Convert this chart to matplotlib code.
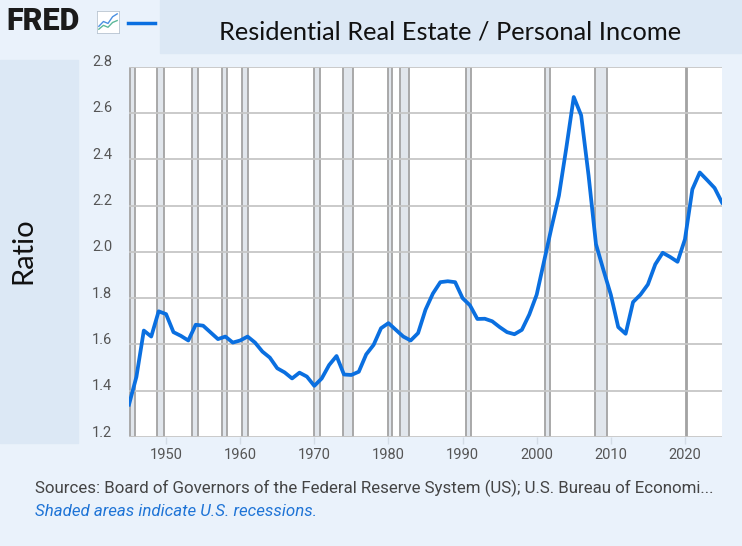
import matplotlib
matplotlib.use("Agg")
import matplotlib.pyplot as plt
from matplotlib.patches import Rectangle
from matplotlib.transforms import ScaledTranslation

# annual ratio
years = list(range(1945, 2026))
ratio = [
    1.34, 1.46, 1.66, 1.634, 1.743, 1.731, 1.653, 1.637, 1.617, 1.685,
    1.681, 1.652, 1.623, 1.634, 1.608, 1.617, 1.634, 1.608, 1.569, 1.543,
    1.497, 1.479, 1.453, 1.478, 1.461, 1.421, 1.453, 1.511, 1.550, 1.470,
    1.468, 1.482, 1.557, 1.598, 1.670, 1.692, 1.663, 1.634, 1.617, 1.649,
    1.750, 1.820, 1.869, 1.873, 1.869, 1.800, 1.769, 1.710, 1.711, 1.700,
    1.675, 1.653, 1.644, 1.663, 1.729, 1.815, 1.960, 2.105, 2.243, 2.450,
    2.669, 2.590, 2.330, 2.033, 1.922, 1.815, 1.675, 1.646, 1.783, 1.815,
    1.859, 1.946, 1.996, 1.978, 1.957, 2.054, 2.270, 2.343, 2.310, 2.276,
    2.213,
]

# NBER recessions (decimal years)
rec_start = [1945.08, 1948.83, 1953.5, 1957.58, 1960.25, 1969.92, 1973.83,
             1980.0, 1981.5, 1990.5, 2001.17, 2007.92, 2020.08]
rec_end = [1945.75, 1949.75, 1954.33, 1958.25, 1961.08, 1970.83, 1975.17,
           1980.5, 1982.83, 1991.17, 2001.83, 2009.42, 2020.25]

yticks = [1.2, 1.4, 1.6, 1.8, 2.0, 2.2, 2.4, 2.6, 2.8]
xticks = [1950, 1960, 1970, 1980, 1990, 2000, 2010, 2020]

title = "Residential Real Estate / Personal Income"
source = ("Sources: Board of Governors of the Federal Reserve System (US); "
          "U.S. Bureau of Economi...")
note = "Shaded areas indicate U.S. recessions."

W, H = 742, 546
bg = "#eaf2fb"
panel = "#dce8f5"
fred_blue = "#0a6fe0"
narrow = ["Liberation Sans Narrow", "Roboto", "DejaVu Sans"]

fig = plt.figure(figsize=(W / 100, H / 100), dpi=100, facecolor=bg)

# header / side panels
fig.patches.append(Rectangle((160 / W, 1 - 53 / H), 1 - 160 / W, 53 / H,
                             transform=fig.transFigure, color=panel, zorder=0))
fig.patches.append(Rectangle((0, 1 - 443 / H), 78 / W, (443 - 60) / H,
                             transform=fig.transFigure, color=panel, zorder=0))

fig.text(450 / W, 1 - 32 / H, title, ha="center", va="center",
         fontsize=18.3, family=["Lato", "DejaVu Sans"], color="#111111")
fig.text(23 / W, 1 - 251 / H, "Ratio", rotation=90, ha="center", va="center",
         fontsize=21, family=["Lato", "DejaVu Sans"], color="#111111")

# FRED logo + legend line
fig.text(6 / W, 1 - 21 / H, "FRED", ha="left", va="center", fontsize=22,
         fontweight="heavy", family=["Roboto", "DejaVu Sans"], color="#1b1b1b")
icon = fig.add_axes([97 / W, 1 - 33 / H, 22 / W, 22 / H])
icon.set_facecolor("white")
icon.plot([0, 1, 2, 3, 4], [1, 2, 1.6, 3, 3.6], color="#4a90e2", lw=1)
icon.plot([0, 1, 2, 3, 4], [0.4, 1.2, 0.8, 1.8, 2.2], color="#5cb89a", lw=1)
icon.set_xlim(-0.4, 4.4)
icon.set_ylim(-0.4, 4.2)
icon.set_xticks([])
icon.set_yticks([])
for s in icon.spines.values():
    s.set_color("#b8c4d0")
    s.set_linewidth(0.6)
fig.lines.append(plt.Line2D([128 / W, 155 / W], [1 - 23 / H, 1 - 23 / H],
                            transform=fig.transFigure, color=fred_blue, lw=2.5))

# main plot
ax = fig.add_axes([129 / W, 109 / H, (722 - 129) / W, (437 - 66.7) / H])
ax.set_facecolor("white")
for a, b in zip(rec_start, rec_end):
    ax.axvspan(a, b, facecolor="#e1e6ec", edgecolor="#a3a3a3", lw=1.3, zorder=0.3)
ax.plot(years, ratio, color=fred_blue, lw=2.7, zorder=3)

ax.set_xlim(1945, 2025)
ax.set_ylim(1.2, 2.8)
ax.set_yticks(yticks)
ax.set_yticklabels([f"{v:.1f}" for v in yticks])
ax.set_xticks(xticks)
ax.set_xticklabels([str(v) for v in xticks])
ax.grid(axis="y", color="#c6c6c6", lw=1.3)
ax.set_axisbelow(True)
for s in ax.spines.values():
    s.set_visible(False)
ax.tick_params(axis="y", length=0, pad=12, labelsize=10.5, labelcolor="#555555")
ax.tick_params(axis="x", length=5, width=1, color="#d3dce6", pad=3,
               labelsize=10.5, labelcolor="#555555")
for lab in ax.get_yticklabels() + ax.get_xticklabels():
    lab.set_family(narrow)
shift = ScaledTranslation(0, 6 / 100, fig.dpi_scale_trans)
for lab in ax.get_yticklabels():
    lab.set_transform(lab.get_transform() + shift)

fig.text(35 / W, 1 - 488 / H, source, ha="left", va="center", fontsize=12.2,
         family=narrow, color="#444444")
fig.text(35 / W, 1 - 511 / H, note, ha="left", va="center", fontsize=12.2,
         family=narrow, style="italic", color="#1f74d6")

fig.savefig("out.png", dpi=100, facecolor=bg)
